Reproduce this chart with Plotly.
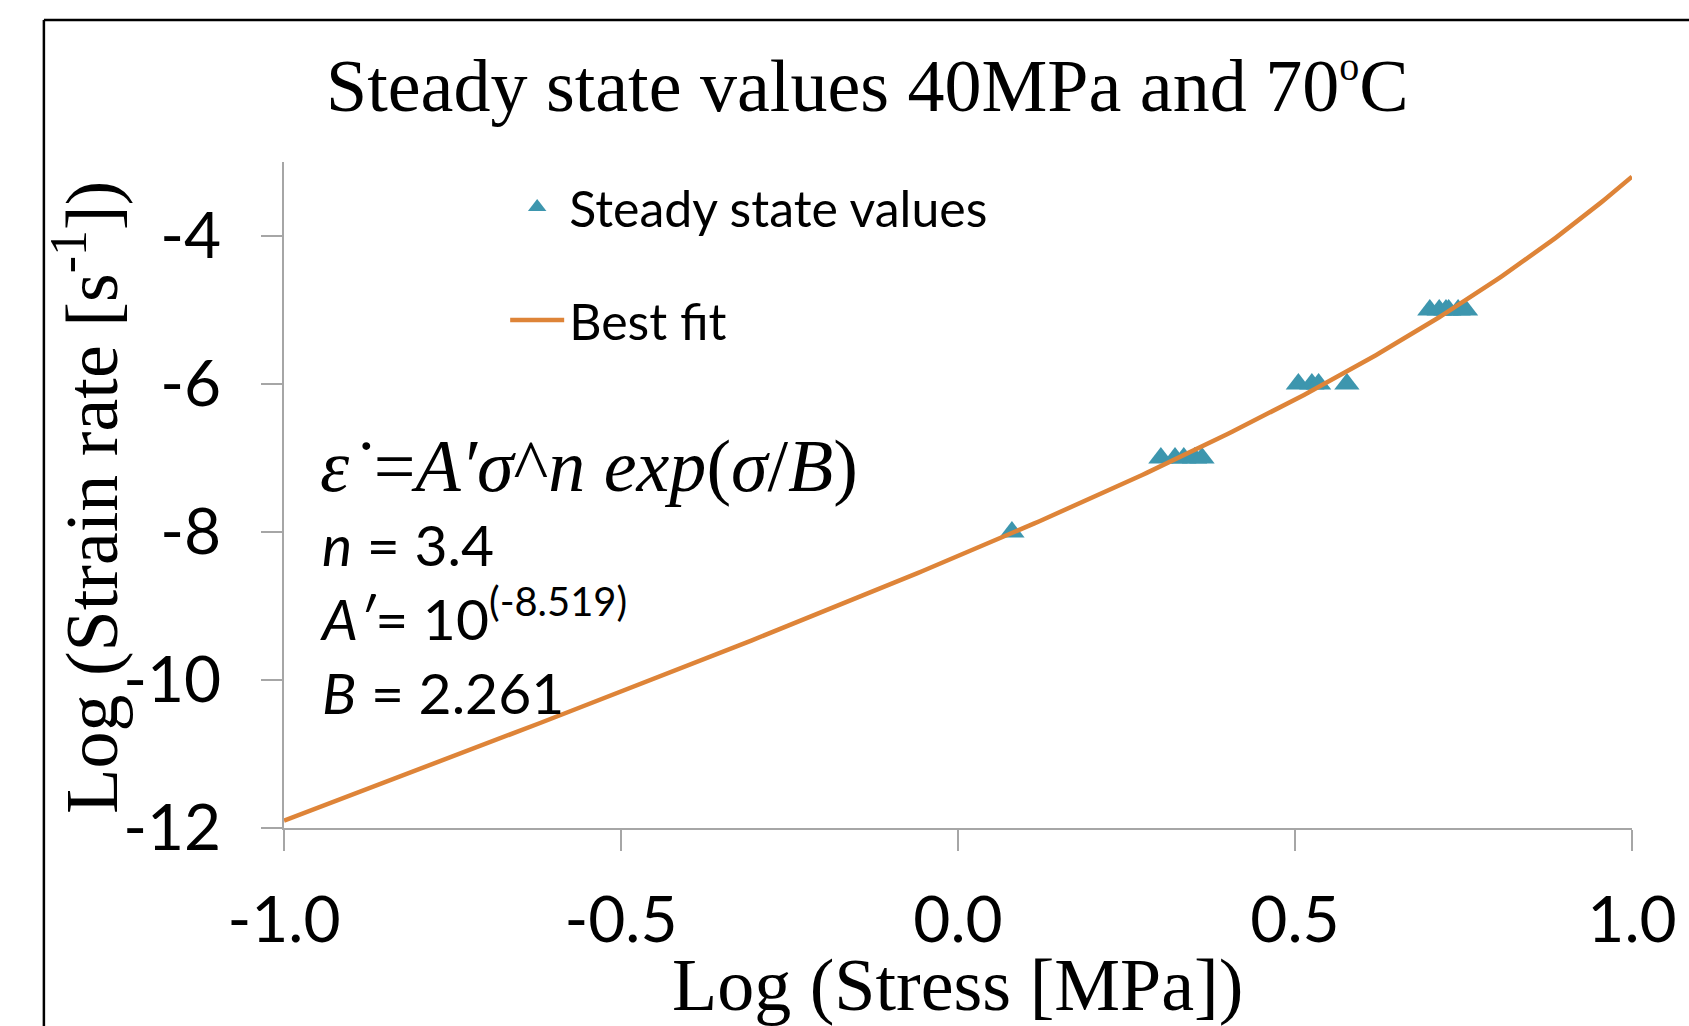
import numpy as np
import plotly.graph_objects as go

# Steady-state creep measurements (log10 of stress in MPa, log10 of strain rate in 1/s)
log_stress = [0.080,
              0.301, 0.322, 0.335, 0.351, 0.362,
              0.505, 0.525, 0.535, 0.577,
              0.700, 0.714, 0.724, 0.728, 0.742, 0.753]
log_strain_rate = [-8,
                   -7, -7, -7, -7, -7,
                   -6, -6, -6, -6,
                   -5, -5, -5, -5, -5, -5]

# Fitted law: strain_rate = A' * sigma^n * exp(sigma / B)
n_exp = 3.4
log_A = -8.519
B_const = 2.261

x_ticks = [-1.0, -0.5, 0.0, 0.5, 1.0]
x_tick_labels = ["-1.0", "-0.5", "0.0", "0.5", "1.0"]
y_ticks = [-12, -10, -8, -6, -4]
y_tick_labels = ["-12", "-10", "-8", "-6", "-4"]

# Best-fit curve in log-log space
fit_x = np.linspace(-1.0, 1.0, 301)
fit_y = log_A + n_exp * fit_x + (10 ** fit_x / B_const) * np.log10(np.e)

W, H = 1689, 1026
ML, MR, MT, MB = 284, 52, 162, 198
PW, PH = W - ML - MR, H - MT - MB


def px(x):
    return (x - ML) / PW


def py(y):
    return (H - MB - y) / PH


TEAL = "#3D96AE"
ORANGE = "#DE8438"
AXIS_GREY = "#A6A6A6"

fig = go.Figure()

fig.add_trace(go.Scatter(
    x=log_stress, y=log_strain_rate, mode="markers",
    name="Steady state values", legendgroup="a",
    marker=dict(symbol="triangle-up", size=22, color=TEAL, line=dict(width=0)),
))
fig.add_trace(go.Scatter(
    x=fit_x, y=fit_y, mode="lines",
    name="Best fit", legendgroup="b",
    line=dict(color=ORANGE, width=4.5),
))

fig.update_layout(
    width=W, height=H,
    margin=dict(l=ML, r=MR, t=MT, b=MB, pad=0),
    paper_bgcolor="white", plot_bgcolor="white",
    showlegend=True,
    legend=dict(
        x=px(506), y=py(168), xanchor="left", yanchor="top",
        bgcolor="rgba(0,0,0,0)", borderwidth=0,
        font=dict(family="Lato", size=50, color="black"),
        traceorder="grouped", tracegroupgap=45, itemwidth=54,
    ),
    xaxis=dict(
        range=[-1.0, 1.0], tickvals=x_ticks, ticktext=x_tick_labels,
        showgrid=False, zeroline=False,
        showline=True, linecolor=AXIS_GREY, linewidth=2,
        ticks="outside", ticklen=21, tickwidth=2, tickcolor=AXIS_GREY,
        tickfont=dict(family="Lato", size=64, color="black"),
        ticklabelstandoff=14,
    ),
    yaxis=dict(
        range=[-12, -3], tickvals=y_ticks, ticktext=y_tick_labels,
        showgrid=False, zeroline=False,
        showline=True, linecolor=AXIS_GREY, linewidth=2,
        ticks="outside", ticklen=21, tickwidth=2, tickcolor=AXIS_GREY,
        tickfont=dict(family="Lato", size=64, color="black"),
        ticklabelstandoff=27,
    ),
    font=dict(family="Liberation Serif", color="black"),
)

# Chart frame
fig.add_shape(type="line", xref="paper", yref="paper",
              x0=px(43), x1=px(W + 20), y0=py(20), y1=py(20),
              line=dict(color="black", width=2.5))
fig.add_shape(type="line", xref="paper", yref="paper",
              x0=px(43), x1=px(43), y0=py(20), y1=py(H + 20),
              line=dict(color="black", width=2.5))

# Title
fig.add_annotation(
    text="Steady state values 40MPa and 70<sup><span style='font-size:40px'>o</span></sup>C",
    xref="paper", yref="paper", x=px(870), y=py(85),
    xanchor="center", yanchor="middle", showarrow=False,
    font=dict(family="Liberation Serif", size=74, color="black"),
)

# Axis titles
fig.add_annotation(
    text="Log (Stress [MPa])",
    xref="paper", yref="paper", x=px(960), y=py(985),
    xanchor="center", yanchor="middle", showarrow=False,
    font=dict(family="Liberation Serif", size=74, color="black"),
)
fig.add_annotation(
    text="Log (Strain rate [s<sup>-1</sup>])",
    xref="paper", yref="paper", x=px(85), y=py(497),
    xanchor="center", yanchor="middle", showarrow=False, textangle=-90,
    font=dict(family="Liberation Serif", size=74, color="black"),
)

# Fitted equation and parameters
fig.add_annotation(
    text="<i>ε˙</i>=<i>A′σ</i>^<i>n exp</i>(<i>σ</i>/<i>B</i>)",
    xref="paper", yref="paper", x=px(318), y=py(466),
    xanchor="left", yanchor="middle", showarrow=False,
    font=dict(family="Liberation Serif", size=74, color="black"),
)
fig.add_annotation(
    text=(f"<i>n</i> = {n_exp}<br>"
          f"<i>A′</i>= 10<sup>({log_A})</sup><br>"
          f"<i>B</i> = {B_const}"),
    xref="paper", yref="paper", x=px(318), y=py(618),
    xanchor="left", yanchor="middle", align="left", showarrow=False,
    font=dict(family="Lato", size=57, color="black"),
)

fig.write_html("out.html")
